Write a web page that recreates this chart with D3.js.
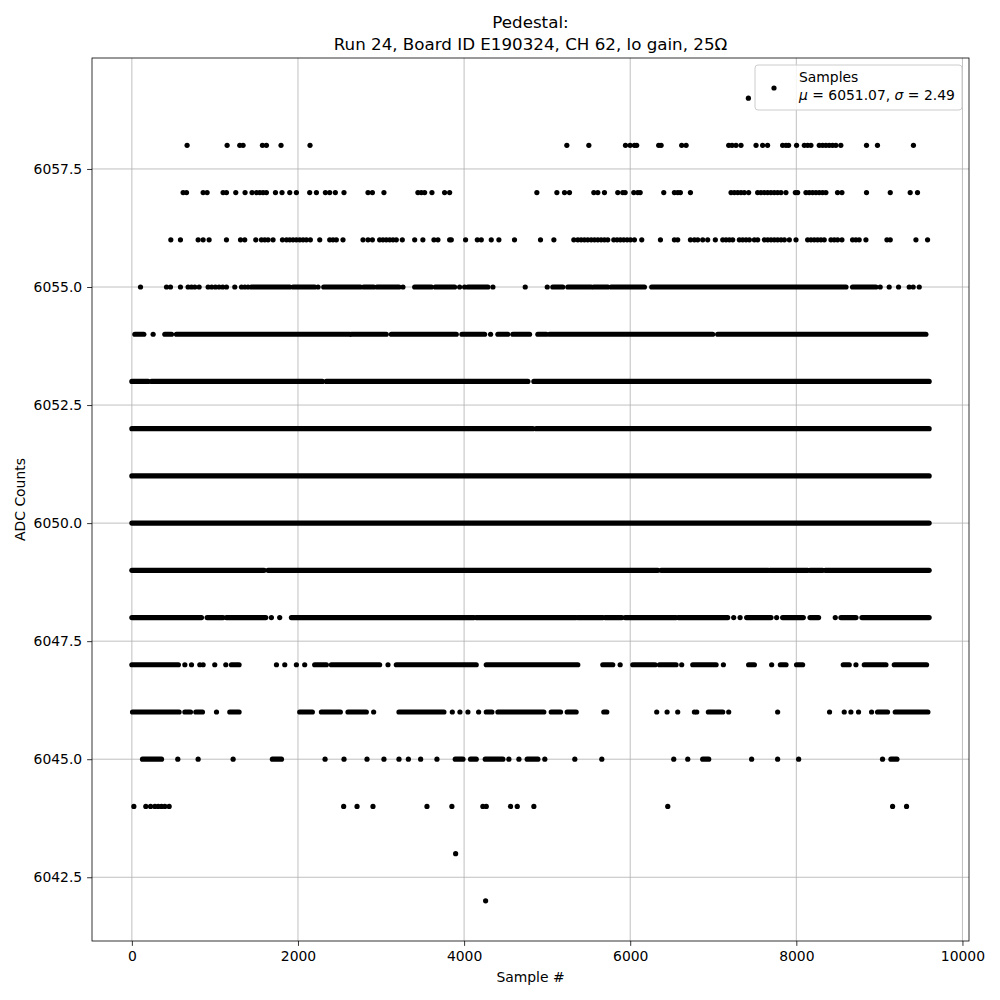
<!DOCTYPE html>
<html><head><meta charset="utf-8">
<script src="https://cdn.jsdelivr.net/npm/d3@7"></script>
<style>body{margin:0;background:#fff}text{font-family:"DejaVu Sans",sans-serif;fill:#000}</style>
</head><body><svg id="c" width="1000" height="1000"></svg>
<script>
// Sample # of each point per ADC level; [a, b] = unbroken run of samples from a to b
const adc6059 = [7423];
const adc6058 = [665, 1147, 1299, 1339, 1572, 1620, 1796, 2145, 5237, 5502, 5943, 5999, 6051, 6078, 6343, 6372, 6620, 6673, 7186, 7226, 7274, 7334, 7515, 7594, 7654, 7835, 7876, 7907, 8003, 8096, 8136, 8176, 8276, 8316, 8356, 8396, 8436, 8476, 8536, 8845, 8977, 9410];
const adc6057 = [617, 658, 858, 906, 1098, 1139, 1251, 1363, 1447, 1500, 1540, 1580, 1620, 1729, 1808, 1901, 1981, 2141, 2222, 2330, 2382, 2450, 2554, 2843, 2896, 3035, 3444, 3485, 3525, 3613, 3765, 3826, 4876, 5117, 5209, 5269, 5562, 5610, 5690, 5850, 5910, 5939, 6043, 6091, 6120, 6404, 6532, 6572, 6604, 6725, 7214, 7254, 7294, 7334, 7374, 7426, 7534, 7574, 7614, 7654, 7694, 7734, 7774, 7815, 7875, 7988, 8016, 8116, 8156, 8196, 8236, 8276, 8316, 8356, 8496, 8549, 8845, 9131, 9371, 9459];
const adc6056 = [469, 585, 798, 858, 930, 1139, 1308, 1359, 1492, 1560, 1600, 1640, 1700, 1813, 1862, 1901, 1941, 1981, 2021, 2061, 2101, 2149, 2262, 2382, 2422, 2462, 2542, 2783, 2843, 2896, 2983, 3023, 3063, 3104, 3144, 3184, 3256, 3405, 3504, 3637, 3685, 3826, 3846, 4018, 4159, 4207, 4327, 4419, 4607, 4920, 5081, 5321, 5369, 5409, 5449, 5489, 5530, 5570, 5610, 5650, 5690, 5730, 5802, 5842, 5882, 5922, 5963, 6003, 6051, 6139, 6364, 6532, 6572, 6725, 6773, 6813, 6873, 6933, 7025, 7114, 7154, 7194, 7234, 7314, 7354, 7395, 7435, 7495, 7535, 7615, 7655, 7695, 7735, 7775, 7816, 7856, 7916, 7996, 8136, 8176, 8216, 8256, 8296, 8336, 8417, 8457, 8497, 8549, 8677, 8717, 8757, 8838, 9091, 9131, 9440, 9580];
const adc6055 = [104, 417, 465, 585, 677, 718, 758, 810, 918, 962, 1006, 1050, 1094, 1139, 1239, 1320, 1360, 1399, [1440, 1901], [1941, 2201], 2242, [2310, 2751], [2791, 2911], [2951, 3216], 3264, [3405, 3606], [3653, 3886], 3946, 4006, [4046, 4286], 4347, 4736, 5001, [5068, 5188], [5249, 5530], [5562, 5730], [5771, 6171], [6259, 8598], [8677, 8958], 9010, 9118, 9231, 9359, 9407, 9480];
const adc6054 = [[36, 144], 256, [397, 477], [537, 2623], [2643, 3063], [3124, 3906], [3974, 4247], 4319, [4407, 4527], [4587, 4788], [4888, 4989], [5029, 6993], [7053, 9560]];
const adc6053 = [[0, 196], [237, 2294], [2342, 4768], [4840, 9599]];
const adc6052 = [[0, 4828], [4868, 9599]];
const adc6051 = [[0, 9599]];
const adc6050 = [[0, 9599]];
const adc6049 = [[0, 1592], [1640, 6332], [6372, 7663], [7683, 8136], [8165, 8316], [8349, 9599]];
const adc6048 = [[0, 838], [906, 1098], [1139, 1612], 1680, 1780, [1921, 4118], [4146, 5349], [5369, 5670], [5698, 5898], [5939, 6552], [6580, 7174], 7246, 7323, [7402, 7695], 7763, [7835, 8084], [8165, 8268], 8469, [8537, 8718], [8790, 9599]];
const adc6047 = [[0, 560], 638, 718, 818, 858, 998, 1131, [1199, 1291], 1741, 1841, 1981, 2081, [2201, 2342], [2402, 2983], 3084, [3184, 4146], [4267, 5369], [5670, 5790], 5879, [6031, 6300], [6352, 6552], 6620, [6753, 7034], 7122, [7426, 7495], 7703, [7808, 7876], [8003, 8076], [8565, 8637], 8718, [8818, 9079], [9179, 9568]];
const adc6046 = [[8, 569], [638, 706], [770, 850], 1019, [1179, 1291], [2021, 2173], [2282, 2510], [2602, 2823], 2911, [3216, 3757], 3858, 3950, 4046, 4175, [4267, 4335], [4407, 4960], [5049, 5161], [5241, 5349], [5682, 5718], 6319, 6444, 6572, 6773, 6801, [6941, 7114], 7186, 7775, 8400, 8577, 8657, 8749, 8906, [8978, 9098], [9191, 9584]];
const adc6045 = [[128, 357], 553, 798, 1219, [1692, 1801], 2326, 2554, 2831, 3035, 3216, 3329, 3477, 3673, [3894, 3986], [4078, 4146], [4255, 4467], 4539, 4660, [4760, 4888], 4972, 5333, 5658, 6524, 6693, [6873, 6945], 7462, 7775, 8028, 9038, [9139, 9211]];
const adc6044 = [24, 168, 225, 277, 317, 357, 397, 449, 2550, 2711, 2903, 3553, 3853, 4226, 4267, 4559, 4640, 4840, 6452, 9159, 9327];
const adc6043 = [3898];
const adc6042 = [4259];

const adcLevels = [6059, 6058, 6057, 6056, 6055, 6054, 6053, 6052, 6051, 6050, 6049, 6048, 6047, 6046, 6045, 6044, 6043, 6042];
const levelSamples = [adc6059, adc6058, adc6057, adc6056, adc6055, adc6054, adc6053, adc6052, adc6051, adc6050, adc6049, adc6048, adc6047, adc6046, adc6045, adc6044, adc6043, adc6042];
const sampleRange = [0, 9599];
const xTicks = [0, 2000, 4000, 6000, 8000, 10000];
const yTicks = [6042.5, 6045.0, 6047.5, 6050.0, 6052.5, 6055.0, 6057.5];
const titleLines = ["Pedestal:", "Run 24, Board ID E190324, CH 62, lo gain, 25Ω"];
const xLabel = "Sample #";
const yLabel = "ADC Counts";
const legendName = "Samples";
const statMu = "6051.07";
const statSigma = "2.49";

const svg = d3.select("#c");
const box = {l: 92, r: 969, t: 58, b: 941};
const xs = sampleRange[1] - sampleRange[0];
const ys = d3.max(adcLevels) - d3.min(adcLevels);
const x = d3.scaleLinear().domain([sampleRange[0] - 0.05 * xs, sampleRange[1] + 0.05 * xs]).range([box.l, box.r]);
const y = d3.scaleLinear().domain([d3.min(adcLevels) - 0.05 * ys, d3.max(adcLevels) + 0.05 * ys]).range([box.b, box.t]);

// grid
const grid = svg.append("g");
grid.selectAll(".gx").data(xTicks).join("line")
  .attr("x1", d => x(d)).attr("x2", d => x(d)).attr("y1", box.t).attr("y2", box.b)
  .attr("stroke", "#b0b0b0").attr("stroke-width", 0.8);
grid.selectAll(".gy").data(yTicks).join("line")
  .attr("y1", d => y(d)).attr("y2", d => y(d)).attr("x1", box.l).attr("x2", box.r)
  .attr("stroke", "#b0b0b0").attr("stroke-width", 0.8);

// points
const R = 2.6;
const marks = svg.append("g").attr("clip-path", null);
adcLevels.forEach((lv, i) => {
  const items = levelSamples[i];
  const runs = items.filter(d => Array.isArray(d));
  const singles = items.filter(d => !Array.isArray(d));
  marks.append("g").selectAll("line").data(runs).join("line")
    .attr("x1", d => x(d[0])).attr("x2", d => x(d[1]))
    .attr("y1", y(lv)).attr("y2", y(lv))
    .attr("stroke", "#000").attr("stroke-width", 2 * R).attr("stroke-linecap", "round");
  marks.append("g").selectAll("circle").data(singles).join("circle")
    .attr("cx", d => x(d)).attr("cy", y(lv)).attr("r", R).attr("fill", "#000");
});

// frame
svg.append("rect").attr("x", box.l).attr("y", box.t).attr("width", box.r - box.l).attr("height", box.b - box.t)
  .attr("fill", "none").attr("stroke", "#000").attr("stroke-width", 0.8);

// axes
const xAxis = d3.axisBottom(x).tickValues(xTicks).tickFormat(d3.format("d")).tickSize(4.9).tickPadding(4.9);
const gx = svg.append("g").attr("transform", `translate(0,${box.b})`).call(xAxis);
const yAxis = d3.axisLeft(y).tickValues(yTicks).tickFormat(d3.format(".1f")).tickSize(4.9).tickPadding(4.9);
const gy = svg.append("g").attr("transform", `translate(${box.l},0)`).call(yAxis);
[gx, gy].forEach(g => {
  g.select(".domain").remove();
  g.selectAll(".tick line").attr("stroke", "#000").attr("stroke-width", 0.8);
  g.selectAll(".tick text").attr("font-family", "DejaVu Sans").attr("font-size", 13.9).attr("fill", "#000");
});

// labels
const cx = (box.l + box.r) / 2;
svg.append("text").attr("x", cx).attr("y", 28).attr("text-anchor", "middle").attr("font-size", 16.7).text(titleLines[0]);
svg.append("text").attr("x", cx).attr("y", 50).attr("text-anchor", "middle").attr("font-size", 16.7).text(titleLines[1]);
svg.append("text").attr("x", cx).attr("y", 982).attr("text-anchor", "middle").attr("font-size", 13.9).text(xLabel);
svg.append("text").attr("transform", `translate(25,${(box.t + box.b) / 2}) rotate(-90)`).attr("text-anchor", "middle").attr("font-size", 13.9).text(yLabel);

// legend
const lg = svg.append("g");
lg.append("rect").attr("x", 755).attr("y", box.t + 7).attr("width", box.r - 7 - 755).attr("height", 45)
  .attr("rx", 3).attr("fill", "#fff").attr("fill-opacity", 0.8).attr("stroke", "#cccccc").attr("stroke-width", 1);
lg.append("circle").attr("cx", 774).attr("cy", 88).attr("r", R).attr("fill", "#000");
lg.append("text").attr("x", 799).attr("y", 82).attr("font-size", 13.9).text(legendName);
const t2 = lg.append("text").attr("x", 799).attr("y", 100).attr("font-size", 13.9);
t2.append("tspan").attr("font-style", "italic").text("μ");
t2.append("tspan").text(" = " + statMu + ", ");
t2.append("tspan").attr("font-style", "italic").text("σ");
t2.append("tspan").text(" = " + statSigma);
</script></body></html>
